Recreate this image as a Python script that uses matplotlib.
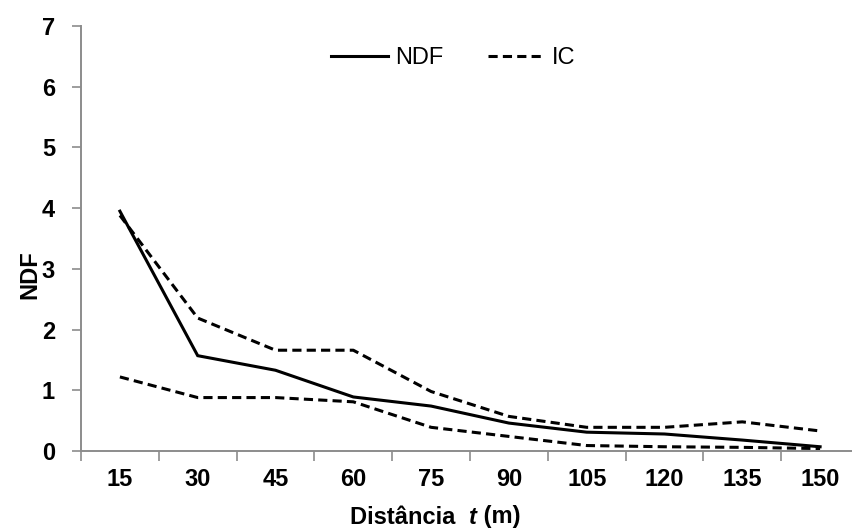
import matplotlib
matplotlib.use("Agg")
import matplotlib.pyplot as plt
from matplotlib.offsetbox import TextArea, HPacker, AnnotationBbox
from matplotlib.lines import Line2D
import numpy as np

categories = ["15", "30", "45", "60", "75", "90", "105", "120", "135", "150"]
ndf = [3.95, 1.57, 1.33, 0.89, 0.74, 0.46, 0.31, 0.28, 0.18, 0.07]
ic_upper = [3.88, 2.19, 1.66, 1.66, 0.98, 0.57, 0.39, 0.39, 0.48, 0.33]
ic_lower = [1.22, 0.88, 0.88, 0.81, 0.39, 0.24, 0.09, 0.07, 0.06, 0.04]
y_ticks = [0, 1, 2, 3, 4, 5, 6, 7]

plt.rcParams['font.family'] = ['Liberation Sans', 'DejaVu Sans']
FS = 17
GREY = '#8c8c8c'
DASH = (0, (3.0, 1.7))

fig = plt.figure(figsize=(8.52, 5.30), dpi=100)
W, H = 852, 530
x0, x1 = 81, 859
y0, y1 = 451, 26
ax = fig.add_axes([x0 / W, 1 - y0 / H, (x1 - x0) / W, (y0 - y1) / H])

x = np.arange(1, len(categories) + 1)
ax.plot(x, ndf, color='black', lw=2.2, label='NDF', solid_joinstyle='miter')
ax.plot(x, ic_upper, color='black', lw=2.2, ls=DASH, label='IC')
ax.plot(x, ic_lower, color='black', lw=2.2, ls=DASH)

ax.set_xlim(0.5, len(categories) + 0.5)
ax.set_ylim(0, 7)
ax.set_yticks(y_ticks)
ax.set_yticklabels([str(t) for t in y_ticks], fontsize=FS, fontweight='bold')
ax.set_xticks(np.arange(0.5, len(categories) + 1, 1))
ax.set_xticklabels([])
ax.set_xticks(x, minor=True)
ax.set_xticklabels(categories, minor=True, fontsize=FS, fontweight='bold')
ax.tick_params(axis='x', which='minor', length=0, pad=12.5)
ax.tick_params(axis='x', which='major', length=7.2, width=1.2, color=GREY, direction='out')
ax.tick_params(axis='y', length=6.7, width=1.2, color=GREY, direction='out', pad=12)

for s in ['top', 'right']:
    ax.spines[s].set_visible(False)
for s in ['left', 'bottom']:
    ax.spines[s].set_color(GREY)
    ax.spines[s].set_linewidth(1.4)

# y axis title
fig.text(30 / W, 1 - 275 / H, 'NDF', rotation=90, ha='center', va='center',
         fontsize=FS, fontweight='bold')

# x axis title with italic t
parts = [TextArea('Distância  ', textprops=dict(fontsize=FS, fontweight='bold')),
         TextArea('t', textprops=dict(fontsize=FS, fontweight='bold', fontstyle='italic')),
         TextArea(' (m)', textprops=dict(fontsize=FS, fontweight='bold'))]
box = HPacker(children=parts, align='baseline', pad=0, sep=0)
ab = AnnotationBbox(box, (435.5 / W, 1 - 517 / H), xycoords='figure fraction',
                    box_alignment=(0.5, 0.5), frameon=False, pad=0)
fig.add_artist(ab)

leg = fig.legend(handles=[Line2D([], [], color='black', lw=2.2),
                          Line2D([], [], color='black', lw=2.2, ls=DASH)],
                 labels=['NDF', 'IC'], loc='center',
                 bbox_to_anchor=(453 / W, 1 - 58 / H), ncol=2, frameon=False,
                 fontsize=FS, handlelength=2.4, handletextpad=0.3, columnspacing=1.9,
                 borderpad=0, borderaxespad=0)

fig.savefig('out.png', dpi=100)
